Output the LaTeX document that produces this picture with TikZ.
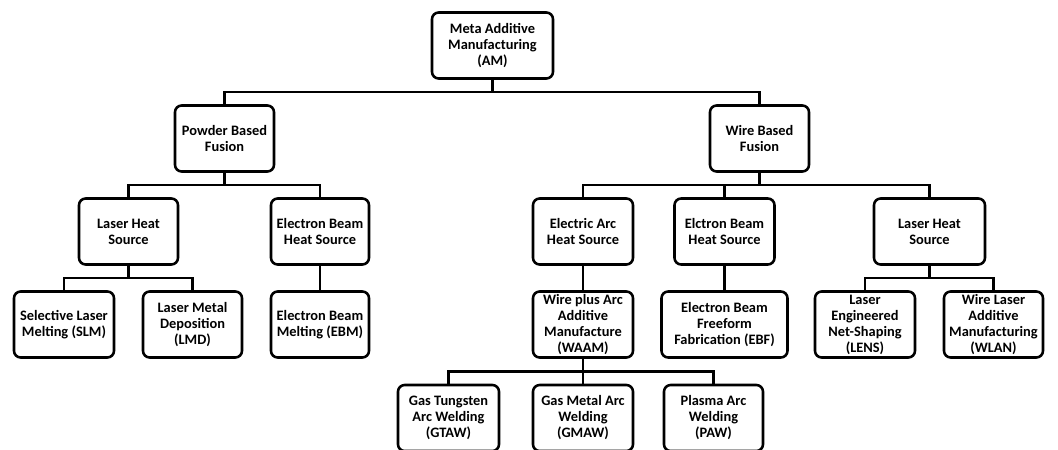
\documentclass[tikz,border=0pt]{standalone}
\usepackage{fontspec}
\setmainfont{Carlito}
\usetikzlibrary{calc}
\tikzset{
  box/.style={draw, line width=1.9pt, rounded corners=5pt, align=center,
    font=\fontsize{10.8}{12}\selectfont\bfseries,
    minimum width=#1*0.75pt, minimum height=66*0.75pt, inner sep=1pt},
  box/.default=99,
  elbow/.style={line width=1.9pt,
    to path={(\tikztostart) -- ($(\tikztostart)!0.5!(\tikztostart |- \tikztotarget)$) -| (\tikztotarget)}}
}
\begin{document}
\begin{tikzpicture}[x=0.75pt, y=-0.75pt]
			%%%%% START %%%%%
			\clip (0, 0) rectangle (1058, 450);
			\useasboundingbox (0, 0) rectangle (1058, 450);
			
			\node[box=121] (am) at (492.5, 45.5) {Meta Additive\\Manufacturing\\(AM)};
			
			\node[box] (pbf) at (224.5, 138.5) {Powder Based\\Fusion};
			\node[box] (wbf) at (759.5, 138.5) {Wire Based\\Fusion};
			
			\node[box] (lhsa) at (128.5, 231.5) {Laser Heat\\Source};
			\node[box=98] (ebhsa) at (320, 231.5) {Electron Beam\\Heat Source};
			\node[box=100] (eahs) at (583, 231.5) {Electric Arc\\Heat Source};
			\node[box=100] (ebhsb) at (724.5, 231.5) {Elctron Beam\\Heat Source};
			\node[box=111] (lhsb) at (929.5, 231.5) {Laser Heat\\Source};
			
			\node[box=100] (slm) at (64, 324.5) {Selective Laser\\Melting (SLM)};
			\node[box] (lmd) at (192.5, 324.5) {Laser Metal\\Deposition\\(LMD)};
			\node[box=98] (ebm) at (320, 324.5) {Electron Beam\\Melting (EBM)};
			\node[box=100] (waam) at (583, 324.5) {Wire plus Arc\\Additive\\Manufacture\\(WAAM)};
			\node[box=126] (ebf) at (724.5, 324.5) {Electron Beam\\Freeform\\Fabrication (EBF)};
			\node[box=100] (lens) at (865, 324.5) {Laser\\Engineered\\Net-Shaping\\(LENS)};
			\node[box] (wlan) at (993.5, 324.5) {Wire Laser\\Additive\\Manufacturing\\(WLAN)};
			
			\node[box=101] (gtaw) at (448.5, 418) {Gas Tungsten\\Arc Welding\\(GTAW)};
			\node[box=100] (gmaw) at (583, 418) {Gas Metal Arc\\Welding\\(GMAW)};
			\node[box] (paw) at (713.5, 418) {Plasma Arc\\Welding\\(PAW)};
			
			\draw (am.south) edge[elbow] (pbf.north) edge[elbow] (wbf.north);
			\draw (pbf.south) edge[elbow] (lhsa.north) edge[elbow] (ebhsa.north);
			\draw (wbf.south) edge[elbow] (eahs.north) edge[elbow] (ebhsb.north) edge[elbow] (lhsb.north);
			\draw (lhsa.south) edge[elbow] (slm.north) edge[elbow] (lmd.north);
			\draw (ebhsa.south) edge[elbow] (ebm.north);
			\draw (eahs.south) edge[elbow] (waam.north);
			\draw (ebhsb.south) edge[elbow] (ebf.north);
			\draw (lhsb.south) edge[elbow] (lens.north) edge[elbow] (wlan.north);
			\draw (waam.south) edge[elbow] (gtaw.north) edge[elbow] (gmaw.north) edge[elbow] (paw.north);
			
			%%%%% END %%%%%
\end{tikzpicture}
\end{document}
